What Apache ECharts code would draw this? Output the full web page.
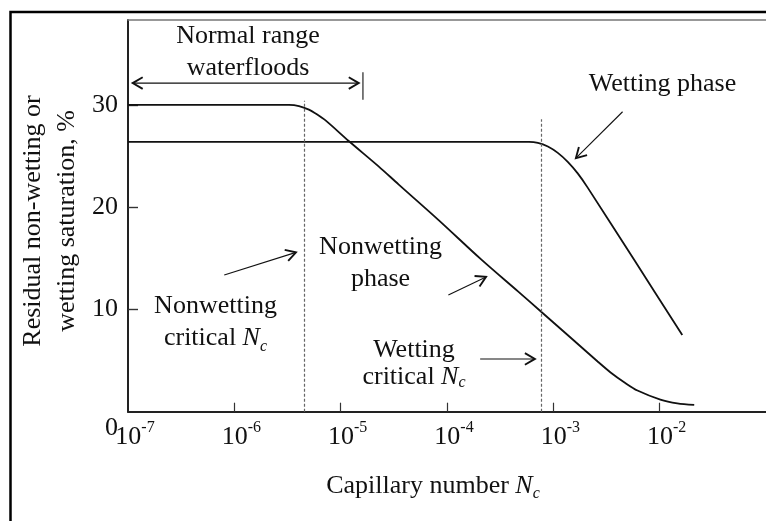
<!DOCTYPE html>
<html>
<head>
<meta charset="utf-8">
<script src="https://cdn.jsdelivr.net/npm/echarts@6/dist/echarts.min.js"></script>
<style>
html,body{margin:0;padding:0;background:#fff}
#chart{width:766px;height:521px}
</style>
</head>
<body>
<div id="chart"></div>
<script>
// Tick positions
const xTicks = [1e-7, 1e-6, 1e-5, 1e-4, 1e-3, 1e-2];
const yTickValues = [10, 20, 30];
const yLabelValues = [0, 10, 20, 30];

// Residual saturation (%) versus capillary number
const nonwettingPhase = [
  [1e-7, 30], [3.266e-6, 30], [4.053e-6, 29.89], [5.027e-6, 29.54], [5.971e-6, 29.08],
  [7.252e-6, 28.46], [1.191e-5, 26.47], [2.273e-5, 23.99], [3.499e-5, 22.23],
  [8.29e-5, 18.76], [2.095e-4, 14.89], [4.651e-4, 11.76], [7.638e-4, 9.8],
  [1.522e-3, 7.06], [2.61e-3, 4.91], [3.454e-3, 3.84], [4.672e-3, 2.86],
  [6.183e-3, 2.07], [1.015e-2, 1.19], [1.464e-2, 0.82], [2.113e-2, 0.66]
];
const wettingPhase = [
  [1e-7, 26.39], [5.897e-4, 26.39], [7.159e-4, 26.29], [8.882e-4, 25.93],
  [1.102e-3, 25.31], [1.367e-3, 24.43], [1.696e-3, 23.3], [2.104e-3, 21.91],
  [5.795e-3, 14.8], [1.631e-2, 7.5]
];

// Critical capillary numbers (dashed guides)
const nonwettingCritical = 4.52e-6;
const wettingCritical = 7.75e-4;

const FONT = '"Liberation Serif", "Times New Roman", serif';
const INK = '#111';

// Annotation pointers: [x1, y1, x2, y2, heads] in axis units
const pointers = [
  [1.107e-7, 32.13, 1.48e-5, 32.13, 2],
  [1.62e-5, 33.2, 1.62e-5, 30.5, 0],
  [4.48e-3, 29.33, 1.63e-3, 24.8, 1],
  [8.04e-7, 13.37, 3.8e-6, 15.58, 1],
  [1.03e-4, 11.42, 2.33e-4, 13.18, 1],
  [2.05e-4, 5.16, 6.71e-4, 5.16, 1]
];

const chart = echarts.init(document.getElementById('chart'), null, {renderer: 'canvas'});

const textBase = {fontFamily: FONT, fontSize: 26, fill: INK, align: 'center', verticalAlign: 'middle'};
const ncRich = {
  it: {fontFamily: FONT, fontSize: 26, fontStyle: 'italic', color: INK, lineHeight: 32},
  sub: {fontFamily: FONT, fontSize: 16, fontStyle: 'italic', color: INK, lineHeight: 14, verticalAlign: 'bottom'}
};

const option = {
  backgroundColor: '#fff',
  animation: false,
  grid: {left: 128, top: 20, right: -3, bottom: 109.3, containLabel: false},
  xAxis: [{
    type: 'log', logBase: 10, min: 1e-7, max: 1e-1, position: 'bottom',
    axisLine: {lineStyle: {color: '#222', width: 2}},
    axisTick: {show: true, inside: true, length: 9, customValues: xTicks.slice(1), lineStyle: {color: '#333', width: 1.2}},
    minorTick: {show: false},
    splitLine: {show: false},
    axisLabel: {
      customValues: xTicks,
      margin: 8,
      padding: [0, 0, 0, 14],
      formatter: v => '{b|10}{s|' + Math.round(Math.log10(v)) + '}',
      rich: {
        b: {fontFamily: FONT, fontSize: 26, color: INK, lineHeight: 34},
        s: {fontFamily: FONT, fontSize: 16, color: INK, lineHeight: 10, verticalAlign: 'top'}
      }
    }
  }, {
    type: 'log', logBase: 10, min: 1e-7, max: 1e-1, position: 'top',
    axisLine: {show: true, lineStyle: {color: '#777', width: 1.5}},
    axisTick: {show: false}, axisLabel: {show: false}, splitLine: {show: false}
  }],
  yAxis: {
    type: 'value', min: 0, max: 38.3,
    axisLine: {show: true, lineStyle: {color: '#222', width: 2}},
    axisTick: {show: true, inside: true, length: 10, customValues: yTickValues, lineStyle: {color: '#333', width: 1.4}},
    splitLine: {show: false},
    axisLabel: {
      customValues: yLabelValues,
      margin: 10,
      fontFamily: FONT, fontSize: 26, color: INK,
      formatter: v => v === 0 ? '{z|0}' : String(v),
      rich: {z: {fontFamily: FONT, fontSize: 26, color: INK, padding: [32, 0, 0, 0]}}
    }
  },
  series: [{
    name: 'Nonwetting phase',
    type: 'line', data: nonwettingPhase, showSymbol: false, smooth: 0.3,
    lineStyle: {color: INK, width: 1.8}, silent: true, z: 4,
    markLine: {
      silent: true, symbol: ['none', 'none'], label: {show: false},
      lineStyle: {color: '#666', width: 1.2, type: [3, 2]},
      data: [
        [{coord: [nonwettingCritical, 0]}, {coord: [nonwettingCritical, 30.4]}],
        [{coord: [wettingCritical, 0]}, {coord: [wettingCritical, 28.6]}]
      ]
    }
  }, {
    name: 'Wetting phase',
    type: 'line', data: wettingPhase, showSymbol: false, smooth: 0.3,
    lineStyle: {color: INK, width: 1.8}, silent: true, z: 4
  }, {
    type: 'custom', silent: true, z: 5,
    dimensions: ['x1', 'y1', 'x2', 'y2', 'heads'],
    encode: {x: [0, 2], y: [1, 3]},
    data: pointers,
    renderItem(params, api) {
      const p1 = api.coord([api.value(0), api.value(1)]);
      const p2 = api.coord([api.value(2), api.value(3)]);
      const heads = api.value(4);
      const children = [{
        type: 'line',
        shape: {x1: p1[0], y1: p1[1], x2: p2[0], y2: p2[1]},
        style: {stroke: INK, lineWidth: 1.1}
      }];
      const head = (tip, from) => {
        const dx = tip[0] - from[0], dy = tip[1] - from[1];
        const len = Math.hypot(dx, dy);
        const ux = dx / len, uy = dy / len;
        const L = 10, W = 5.8;
        return {
          type: 'polyline',
          shape: {points: [
            [tip[0] - L * ux - W * uy, tip[1] - L * uy + W * ux],
            [tip[0], tip[1]],
            [tip[0] - L * ux + W * uy, tip[1] - L * uy - W * ux]
          ]},
          style: {stroke: INK, lineWidth: 1.9, fill: null}
        };
      };
      if (heads >= 1) children.push(head(p2, p1));
      if (heads >= 2) children.push(head(p1, p2));
      return {type: 'group', children};
    }
  }],
  graphic: [
    {type: 'rect', z: 100, silent: true, shape: {x: 10.5, y: 12, width: 900, height: 700},
      style: {fill: null, stroke: '#000', lineWidth: 2.5}},
    {type: 'text', x: 248, y: 52, silent: true,
      style: Object.assign({}, textBase, {text: 'Normal range\nwaterfloods', lineHeight: 32})},
    {type: 'text', x: 662.5, y: 84, silent: true,
      style: Object.assign({}, textBase, {text: 'Wetting phase'})},
    {type: 'text', x: 380.5, y: 263, silent: true,
      style: Object.assign({}, textBase, {text: 'Nonwetting\nphase', lineHeight: 32})},
    {type: 'text', x: 215.5, y: 322.6, silent: true,
      style: Object.assign({}, textBase, {text: 'Nonwetting\ncritical {it|N}{sub|c}', lineHeight: 32, rich: ncRich})},
    {type: 'text', x: 414, y: 363.5, silent: true,
      style: Object.assign({}, textBase, {text: 'Wetting\ncritical {it|N}{sub|c}', lineHeight: 27,
        rich: {it: Object.assign({}, ncRich.it, {lineHeight: 27}), sub: Object.assign({}, ncRich.sub)}})},
    {type: 'text', x: 433, y: 486, silent: true,
      style: Object.assign({}, textBase, {text: 'Capillary number {it|N}{sub|c}', lineHeight: 32, rich: ncRich})},
    {type: 'text', x: 50.25, y: 221, rotation: Math.PI / 2, silent: true,
      style: Object.assign({}, textBase, {text: 'Residual non-wetting or\nwetting saturation, %', lineHeight: 34})}
  ]
};

chart.setOption(option);
</script>
</body>
</html>
